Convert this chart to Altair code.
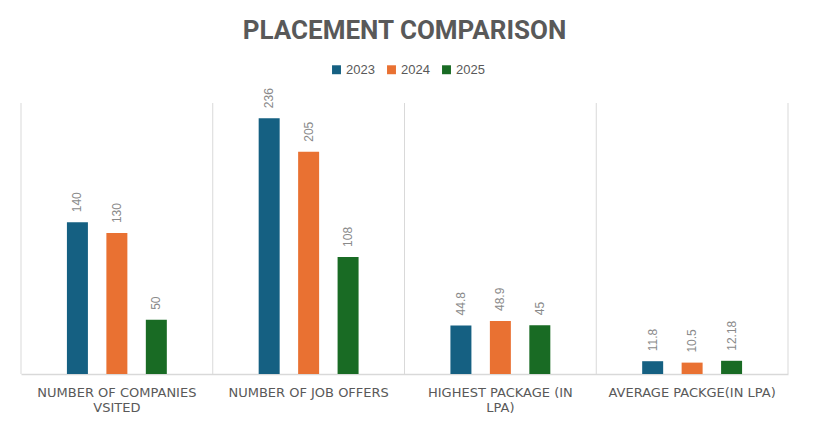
import altair as alt
import pandas as pd

categories = ["NUMBER OF COMPANIES VSITED", "NUMBER OF JOB OFFERS",
              "HIGHEST PACKAGE (IN LPA)", "AVERAGE PACKGE(IN LPA)"]
years = ["2023", "2024", "2025"]
values_2023 = ["140", "236", "44.8", "11.8"]
values_2024 = ["130", "205", "48.9", "10.5"]
values_2025 = ["50", "108", "45", "12.18"]
colors = ["#156082", "#E97132", "#196B24"]

rows = []
for yr, vals in zip(years, [values_2023, values_2024, values_2025]):
    for c, v in zip(categories, vals):
        rows.append({"category": c, "year": yr, "value": float(v), "label": v})
df = pd.DataFrame(rows)

grid_df = pd.DataFrame({"category": categories})
last_df = pd.DataFrame({"category": categories[-1:]})

xscale = alt.Scale(domain=categories, paddingInner=0, paddingOuter=0)
# empty slots either side of the three years give the wide outer gaps
xoff_scale = alt.Scale(domain=["_l"] + years + ["_r"], paddingInner=0.468, paddingOuter=0.164)
yscale = alt.Scale(domain=[0, 250], nice=False)

label_expr = ("datum.label == 'NUMBER OF COMPANIES VSITED' ? ['NUMBER OF COMPANIES', 'VSITED'] : "
              "datum.label == 'HIGHEST PACKAGE (IN LPA)' ? ['HIGHEST PACKAGE (IN', 'LPA)'] : datum.label")

base = alt.Chart(df)

bars = base.mark_bar().encode(
    x=alt.X("category:N", scale=xscale, sort=None, title=None,
            axis=alt.Axis(labelAngle=0, labelAlign="center", labelBaseline="top",
                          ticks=False, grid=False, domain=True,
                          domainColor="#d9d9d9", domainWidth=1.5,
                          labelColor="#595959", labelFont="DejaVu Sans",
                          labelFontSize=13, labelPadding=12, labelLimit=300,
                          labelLineHeight=15, labelExpr=label_expr)),
    xOffset=alt.XOffset("year:N", scale=xoff_scale, sort=None),
    y=alt.Y("value:Q", scale=yscale, axis=None),
    color=alt.Color("year:N", scale=alt.Scale(domain=years, range=colors),
                    legend=alt.Legend(title=None, orient="none", direction="horizontal",
                                      legendX=309, legendY=-40, symbolType="square",
                                      symbolSize=80, symbolStrokeWidth=0,
                                      labelColor="#595959", labelFontSize=13,
                                      labelFont="Liberation Sans", columnPadding=10,
                                      labelOffset=3)),
)

text = base.mark_text(angle=270, align="left", baseline="middle", dx=10,
                      color="#8a8a8a", fontSize=12, font="Liberation Sans").encode(
    x=alt.X("category:N", scale=xscale, sort=None),
    xOffset=alt.XOffset("year:N", scale=xoff_scale, sort=None),
    y=alt.Y("value:Q", scale=yscale),
    text="label:N",
)

grid = alt.Chart(grid_df).mark_rule(color="#d9d9d9", strokeWidth=1).encode(
    x=alt.X("category:N", scale=xscale, sort=None, bandPosition=0)
)
grid_last = alt.Chart(last_df).mark_rule(color="#d9d9d9", strokeWidth=1).encode(
    x=alt.X("category:N", scale=xscale, sort=None, bandPosition=1)
)

chart = alt.layer(grid, grid_last, bars, text).properties(
    width=767, height=271,
    autosize=alt.AutoSizeParams(type="none"),
    padding={"left": 13, "top": 95, "right": 17, "bottom": 40},
    title=alt.Title("PLACEMENT COMPARISON", font="Roboto", fontSize=26,
                    fontWeight="bold", color="#595959", anchor="middle",
                    offset=19),
).configure(background="white").configure_view(stroke=None)

chart.save("out.html", embed_options={"renderer": "svg", "actions": False})
